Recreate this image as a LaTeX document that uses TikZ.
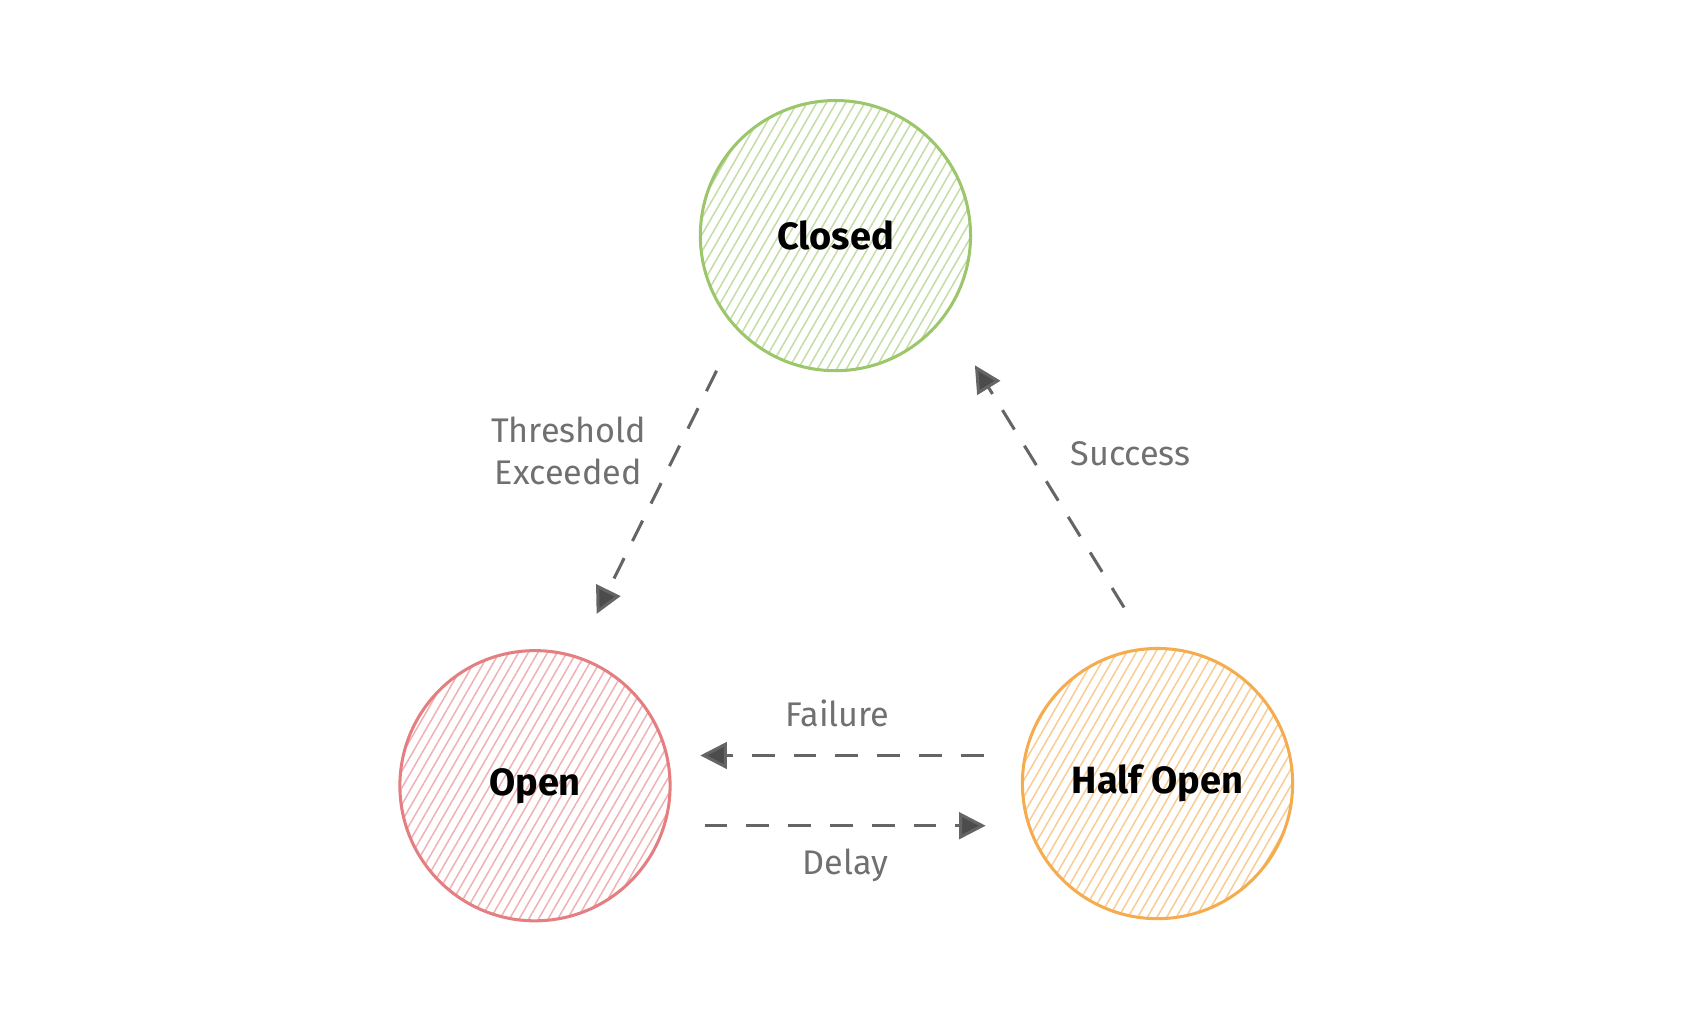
\documentclass[tikz,border=0pt]{standalone}
\usepackage{fontspec}
\setmainfont{Fira Sans}
\usetikzlibrary{patterns.meta,arrows.meta}
\definecolor{grn}{HTML}{9BC66A}
\definecolor{rd}{HTML}{E57E80}
\definecolor{org}{HTML}{F4AC4E}
\definecolor{lbl}{HTML}{707070}
\begin{document}
\begin{tikzpicture}
\tikzset{
  state/.style={circle, minimum size=2.5cm, draw=#1, line width=0.8pt,
    pattern={Lines[angle=60,distance=2.2pt,line width=0.4pt]}, pattern color=#1!60,
    font=\bfseries, inner sep=0pt},
  trans/.style={dashed, dash pattern=on 6pt off 5pt, draw=lbl!90!black, line width=0.8pt,
    -{Triangle[length=7pt,width=7pt,fill=black!70]}},
  lab/.style={text=lbl, font=\small}
}
\useasboundingbox (0,0) rectangle (15.6,9.4);
% States
\node[state=grn] (closed) at (7.73,7.22) {Closed};
\node[state=rd] (open) at (4.95,2.13) {Open};
\node[state=org] (half) at (10.71,2.15) {Half Open};
% Arrow ends
\coordinate (c1) at (6.63,5.97);
\coordinate (o1) at (5.52,3.72);
\coordinate (h1) at (10.40,3.78);
\coordinate (c2) at (9.02,6.02);
\coordinate (h2) at (9.10,2.41);
\coordinate (o2) at (6.48,2.41);
\coordinate (o3) at (6.52,1.76);
\coordinate (h3) at (9.12,1.76);
% Transitions
\draw[trans] (c1) -- (o1);
\draw[trans] (h1) -- (c2);
\draw[trans] (h2) -- (o2);
\draw[trans] (o3) -- (h3);
% Labels
\node[lab, align=center] (thr) at (5.26,5.23) {Threshold\\Exceeded};
\node[lab] (suc) at (10.46,5.20) {Success};
\node[lab] (fail) at (7.75,2.80) {Failure};
\node[lab] (del) at (7.82,1.39) {Delay};
\end{tikzpicture}
\end{document}
